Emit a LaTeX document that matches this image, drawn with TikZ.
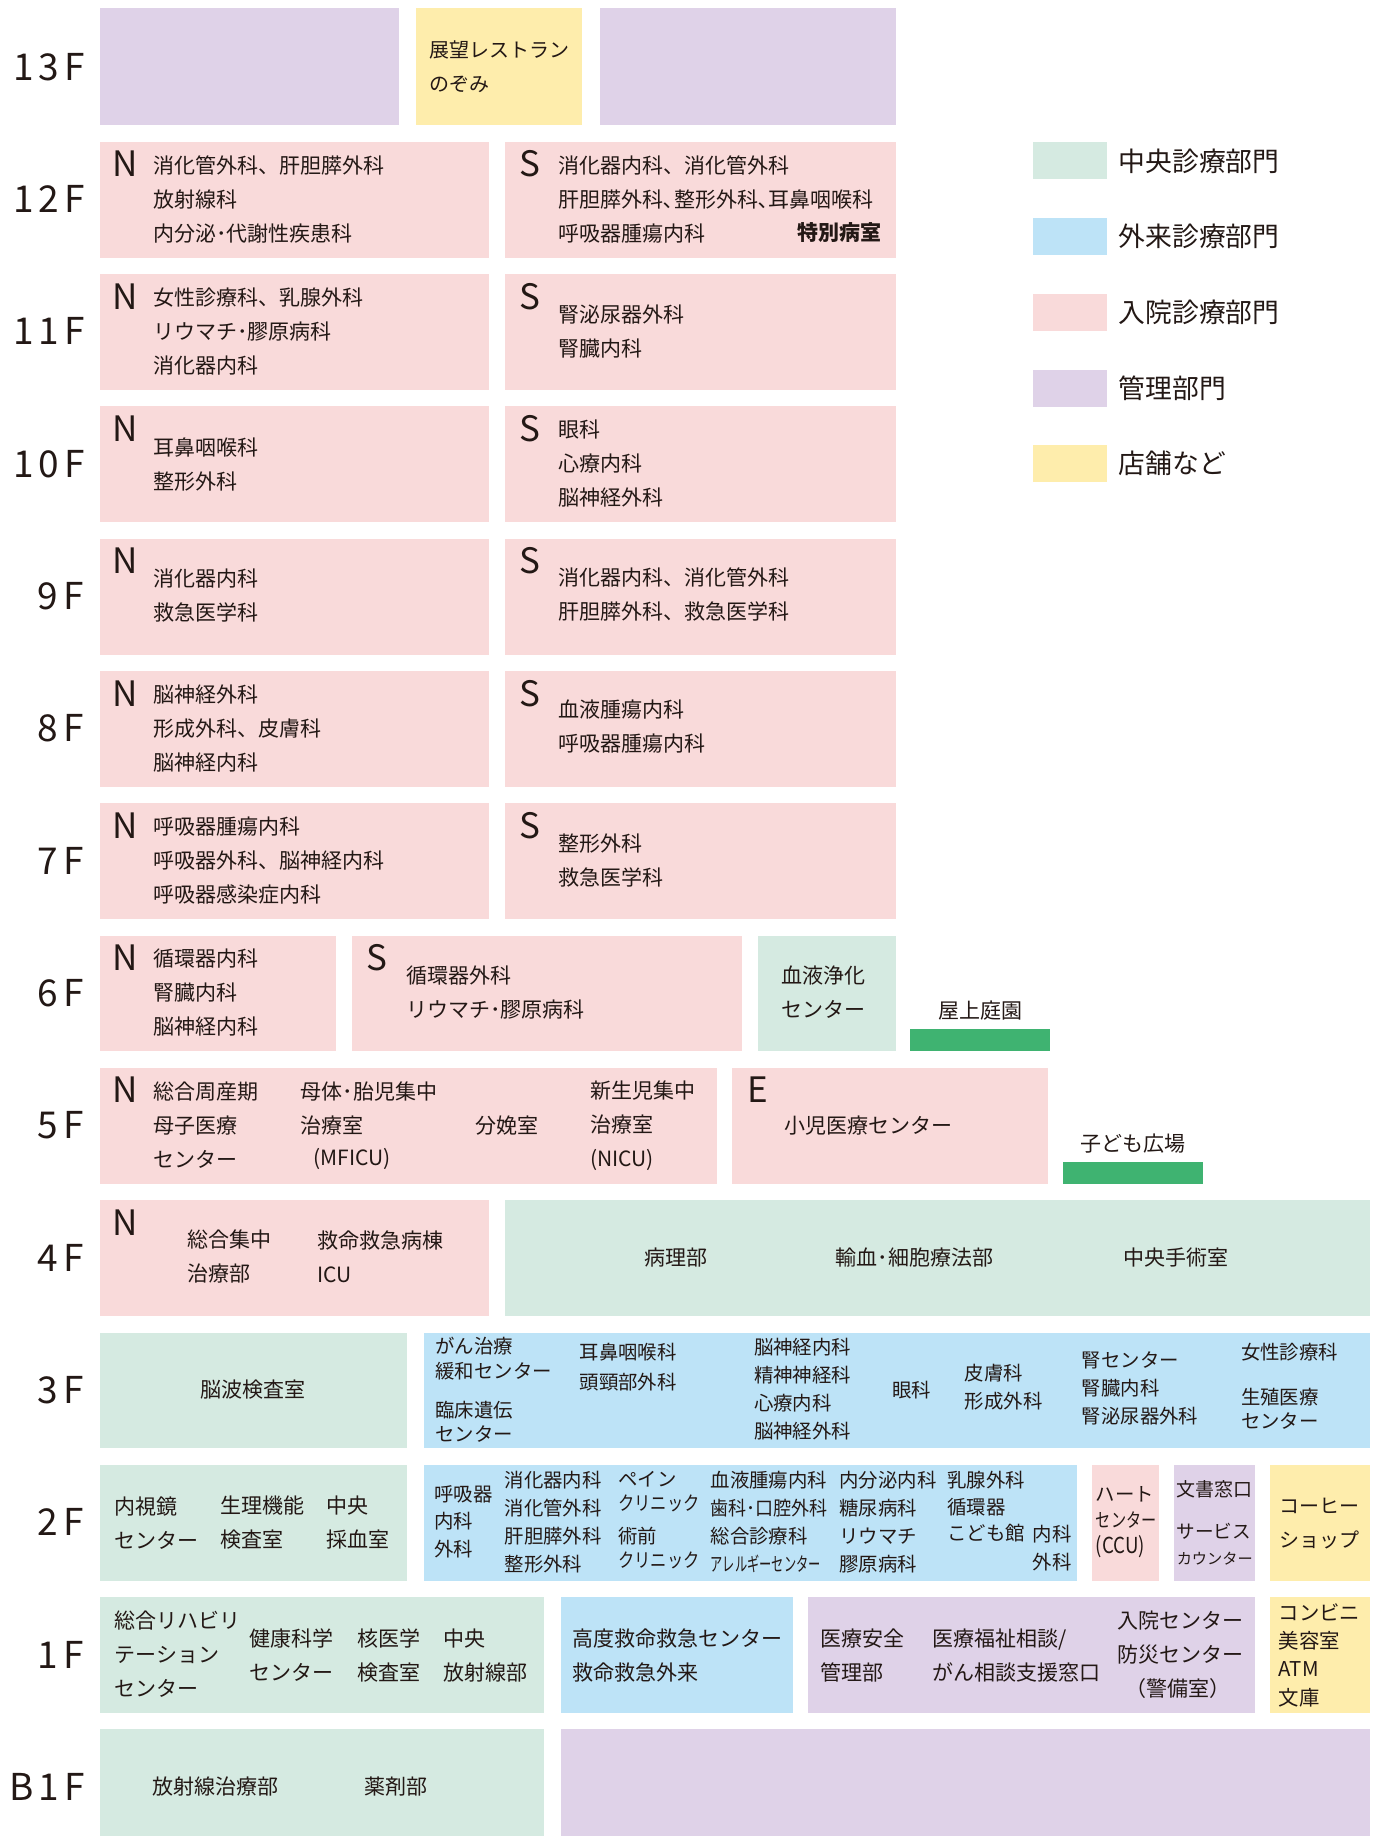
\documentclass[tikz,border=0pt]{standalone}
\usepackage{fontspec}
\usepackage{graphicx}
\setmainfont{Noto Sans CJK JP}
\usetikzlibrary{fit}
\definecolor{ink}{HTML}{231815}
\definecolor{cgreen}{HTML}{D5EAE1}
\definecolor{cblue}{HTML}{BDE3F7}
\definecolor{cpink}{HTML}{F9DADA}
\definecolor{cpurple}{HTML}{DFD2E8}
\definecolor{cyellow}{HTML}{FEEDAC}
\definecolor{cbar}{HTML}{3FB371}
\newcommand\fsz[2]{\fontsize{#1}{#2}\selectfont}
\newcommand\room[6]{\node[room, fill=#2, fit={(#3,#4)(#5,#6)}] (#1) {};}
\begin{document}
\begin{tikzpicture}[x=0.58555pt,y=-0.58555pt,
  room/.style={inner sep=0pt, outer sep=0pt, draw=none},
  tx/.style={anchor=west, inner sep=0pt, outer sep=0pt, text=ink, align=left, font=\fsz{10.5}{17}},
  tc/.style={tx, anchor=center},
  ts/.style={tx, font=\fsz{9.7}{14}},
  flr/.style={inner sep=0pt, text=ink, font=\fsz{18.5}{20}\addfontfeature{LetterSpace=14}},
  wing/.style={anchor=west, inner sep=0pt, text=ink, font=\fsz{17.5}{18}},
  leg/.style={anchor=west, inner sep=0pt, text=ink, font=\fsz{13.4}{16}},
]
\useasboundingbox[fill=white] (0,0) rectangle (1175,1568);

% ---------- rooms ----------
\room{r13a}{cpurple}{85}{7}{341}{107}
\room{r13b}{cyellow}{355}{7}{497}{107}
\room{r13c}{cpurple}{512}{7}{765}{107}
\room{r12n}{cpink}{85}{121}{418}{220}
\room{r12s}{cpink}{431}{121}{765}{220}
\room{r11n}{cpink}{85}{234}{418}{333}
\room{r11s}{cpink}{431}{234}{765}{333}
\room{r10n}{cpink}{85}{347}{418}{446}
\room{r10s}{cpink}{431}{347}{765}{446}
\room{r9n}{cpink}{85}{460}{418}{559}
\room{r9s}{cpink}{431}{460}{765}{559}
\room{r8n}{cpink}{85}{573}{418}{672}
\room{r8s}{cpink}{431}{573}{765}{672}
\room{r7n}{cpink}{85}{686}{418}{785}
\room{r7s}{cpink}{431}{686}{765}{785}
\room{r6n}{cpink}{85}{799}{287}{898}
\room{r6s}{cpink}{301}{799}{634}{898}
\room{r6g}{cgreen}{647}{799}{765}{898}
\room{r6bar}{cbar}{777}{879}{897}{898}
\room{r5n}{cpink}{85}{912}{612}{1011}
\room{r5e}{cpink}{625}{912}{895}{1011}
\room{r5bar}{cbar}{908}{992}{1027}{1011}
\room{r4n}{cpink}{85}{1025}{418}{1124}
\room{r4g}{cgreen}{431}{1025}{1170}{1124}
\room{r3g}{cgreen}{85}{1138}{348}{1237}
\room{r3b}{cblue}{362}{1138}{1170}{1237}
\room{r2g}{cgreen}{85}{1251}{348}{1350}
\room{r2b}{cblue}{362}{1251}{920}{1350}
\room{r2p}{cpink}{933}{1251}{990}{1350}
\room{r2m}{cpurple}{1003}{1251}{1072}{1350}
\room{r2y}{cyellow}{1085}{1251}{1170}{1350}
\room{r1g}{cgreen}{85}{1364}{465}{1463}
\room{r1b}{cblue}{479}{1364}{677}{1463}
\room{r1m}{cpurple}{690}{1364}{1072}{1463}
\room{r1y}{cyellow}{1085}{1364}{1170}{1463}
\room{rb1g}{cgreen}{85}{1477}{465}{1568}
\room{rb1m}{cpurple}{479}{1477}{1170}{1568}

% ---------- legend ----------
\room{lg1}{cgreen}{882}{121}{945}{153}
\room{lg2}{cblue}{882}{186}{945}{218}
\room{lg3}{cpink}{882}{251}{945}{283}
\room{lg4}{cpurple}{882}{316}{945}{348}
\room{lg5}{cyellow}{882}{380}{945}{412}
\node[leg] (lt1) at (955,138) {中央診療部門};
\node[leg] (lt2) at (955,202) {外来診療部門};
\node[leg] (lt3) at (955,267) {入院診療部門};
\node[leg] (lt4) at (955,332) {管理部門};
\node[leg] (lt5) at (955,396) {店舗など};

% ---------- floor labels ----------
\node[flr] (f13) at (42,57) {13F};
\node[flr] (f12) at (42,170) {12F};
\node[flr] (f11) at (42,283) {11F};
\node[flr] (f10) at (42,396) {10F};
\node[flr] (f9) at (52,509) {9F};
\node[flr] (f8) at (52,622) {8F};
\node[flr] (f7) at (52,735) {7F};
\node[flr] (f6) at (52,848) {6F};
\node[flr] (f5) at (52,961) {5F};
\node[flr] (f4) at (52,1074) {4F};
\node[flr] (f3) at (52,1187) {3F};
\node[flr] (f2) at (52,1300) {2F};
\node[flr] (f1) at (52,1413) {1F};
\node[flr] (fb1) at (40,1526) {B1F};

% ---------- 13F ----------
\node[tx, font=\fsz{10}{17}] (t13) at (367,57) {展望レストラン\\のぞみ};

% ---------- 12F ----------
\node[wing] (w12n) at (96,140) {N};
\node[tx] (t12n) at (131,170) {消化管外科、肝胆膵外科\\放射線科\\内分泌･代謝性疾患科};
\node[wing] (w12s) at (443,140) {S};
\node[tx] (t12s) at (477,170) {消化器内科、消化管外科\\肝胆膵外科､整形外科､耳鼻咽喉科\\呼吸器腫瘍内科};
\node[tx, anchor=east, font=\fsz{10.5}{17}\bfseries] (t12sp) at (753,199) {特別病室};

% ---------- 11F ----------
\node[wing] (w11n) at (96,253) {N};
\node[tx] (t11n) at (131,283) {女性診療科、乳腺外科\\リウマチ･膠原病科\\消化器内科};
\node[wing] (w11s) at (443,253) {S};
\node[tx] (t11s) at (477,283.5) {腎泌尿器外科\\腎臓内科};

% ---------- 10F ----------
\node[wing] (w10n) at (96,366) {N};
\node[tx] (t10n) at (131,396.5) {耳鼻咽喉科\\整形外科};
\node[wing] (w10s) at (443,366) {S};
\node[tx] (t10s) at (477,396) {眼科\\心療内科\\脳神経外科};

% ---------- 9F ----------
\node[wing] (w9n) at (96,479) {N};
\node[tx] (t9n) at (131,508.5) {消化器内科\\救急医学科};
\node[wing] (w9s) at (443,479) {S};
\node[tx] (t9s) at (477,507.5) {消化器内科、消化管外科\\肝胆膵外科、救急医学科};

% ---------- 8F ----------
\node[wing] (w8n) at (96,592) {N};
\node[tx] (t8n) at (131,622) {脳神経外科\\形成外科、皮膚科\\脳神経内科};
\node[wing] (w8s) at (443,592) {S};
\node[tx] (t8s) at (477,620.5) {血液腫瘍内科\\呼吸器腫瘍内科};

% ---------- 7F ----------
\node[wing] (w7n) at (96,705) {N};
\node[tx] (t7n) at (131,735) {呼吸器腫瘍内科\\呼吸器外科、脳神経内科\\呼吸器感染症内科};
\node[wing] (w7s) at (443,705) {S};
\node[tx] (t7s) at (477,734.5) {整形外科\\救急医学科};

% ---------- 6F ----------
\node[wing] (w6n) at (96,818) {N};
\node[tx] (t6n) at (131,848) {循環器内科\\腎臓内科\\脳神経内科};
\node[wing] (w6s) at (313,818) {S};
\node[tx] (t6s) at (347,847.5) {循環器外科\\リウマチ･膠原病科};
\node[tx] (t6g) at (667,847.5) {血液浄化\\センター};
\node[tc] (t6r) at (837,863) {屋上庭園};

% ---------- 5F ----------
\node[wing] (w5n) at (96,931) {N};
\node[tx] (t5a) at (131,961) {総合周産期\\母子医療\\センター};
\node[tx] (t5b) at (257,946.5) {母体･胎児集中\\治療室};
\node[tx] (t5c) at (268,990) {(MFICU)};
\node[tx] (t5d) at (406,961) {分娩室};
\node[tx] (t5e) at (504,961) {新生児集中\\治療室\\(NICU)};
\node[wing] (w5e) at (638,931) {E};
\node[tx] (t5f) at (670,961) {小児医療センター};
\node[tc] (t5k) at (968,977) {子ども広場};

% ---------- 4F ----------
\node[wing] (w4n) at (96,1044) {N};
\node[tx] (t4a) at (160,1073.5) {総合集中\\治療部};
\node[tx] (t4b) at (271,1073.5) {救命救急病棟\\ICU};
\node[tc] (t4c) at (577,1074) {病理部};
\node[tc] (t4d) at (781,1074) {輸血･細胞療法部};
\node[tc] (t4e) at (1004,1074) {中央手術室};

% ---------- 3F ----------
\node[tc] (t3g) at (216,1187) {脳波検査室};
\node[ts, font=\fsz{9.7}{12.3}] (t3a) at (372,1160.5) {がん治療\\緩和センター};
\node[ts, font=\fsz{9.7}{12}] (t3b) at (372,1214) {臨床遺伝\\センター};
\node[ts, font=\fsz{9.7}{14.6}] (t3c) at (495,1167.5) {耳鼻咽喉科\\頭頸部外科};
\node[ts] (t3d) at (644,1186) {脳神経内科\\精神神経科\\心療内科\\脳神経外科};
\node[ts] (t3e) at (762,1187) {眼科};
\node[ts] (t3f) at (824,1185) {皮膚科\\形成外科};
\node[ts] (t3h) at (924,1186) {腎センター\\腎臓内科\\腎泌尿器外科};
\node[ts] (t3i) at (1060,1155) {女性診療科};
\node[ts, font=\fsz{9.7}{12}] (t3j) at (1060,1203) {生殖医療\\センター};

% ---------- 2F ----------
\node[tx] (t2a) at (98,1300.5) {内視鏡\\センター};
\node[tx] (t2b) at (188,1300.5) {生理機能\\検査室};
\node[tx] (t2c) at (279,1300.5) {中央\\採血室};
\node[ts, font=\fsz{9.7}{13.8}] (t2d) at (371,1299.5) {呼吸器\\内科\\外科};
\node[ts] (t2e) at (431,1300) {消化器内科\\消化管外科\\肝胆膵外科\\整形外科};
\node[ts, font=\fsz{9.7}{11.7}] (t2f) at (528,1274) {ペイン\\\scalebox{0.84}[1]{クリニック}};
\node[ts, font=\fsz{9.7}{11.7}] (t2g) at (528,1322) {術前\\\scalebox{0.84}[1]{クリニック}};
\node[ts] (t2h) at (607,1300) {血液腫瘍内科\\\scalebox{0.93}[1]{歯科･口腔外科}\\総合診療科\\\scalebox{0.63}[1]{アレルギーセンター}};
\node[ts] (t2i) at (717,1300) {内分泌内科\\糖尿病科\\リウマチ\\膠原病科};
\node[ts, font=\fsz{9.7}{13.3}] (t2j) at (809,1287) {乳腺外科\\循環器\\こども館};
\node[ts, anchor=east, align=right] (t2k) at (915,1322) {内科\\外科};
\node[ts, font=\fsz{9.7}{13}] (t2l) at (936,1300) {ハート\\\scalebox{0.78}[1]{センター}\\{\fsz{11}{13}\scalebox{0.85}[1]{(CCU)}}};
\node[ts, font=\fsz{9.5}{13}] (t2m) at (1005,1272) {文書窓口};
\node[ts, font=\fsz{9.3}{13}] (t2n) at (1005,1319) {サービス\\{\fsz{7.6}{13}カウンター}};
\node[tx, font=\fsz{10}{17}] (t2o) at (1093,1301.5) {コーヒー\\ショップ};

% ---------- 1F ----------
\node[tx] (t1a) at (98,1413) {総合リハビリ\\テーション\\センター};
\node[tx] (t1b) at (213,1413.5) {健康科学\\センター};
\node[tx] (t1c) at (305,1413.5) {核医学\\検査室};
\node[tx] (t1d) at (379,1413.5) {中央\\放射線部};
\node[tx] (t1e) at (489,1413.5) {高度救命救急センター\\救命救急外来};
\node[tx] (t1f) at (701,1413.5) {医療安全\\管理部};
\node[tx] (t1g) at (796,1413.5) {医療福祉相談/\\がん相談支援窓口};
\node[tx] (t1h) at (954,1398.5) {入院センター\\防災センター};
\node[tc] (t1i) at (1006,1442) {（警備室）};
\node[tx, font=\fsz{10.2}{14.2}] (t1j) at (1092,1413.5) {コンビニ\\美容室\\ATM\\文庫};

% ---------- B1F ----------
\node[tx] (tb1a) at (130,1526) {放射線治療部};
\node[tx] (tb1b) at (311,1526) {薬剤部};
\end{tikzpicture}
\end{document}
